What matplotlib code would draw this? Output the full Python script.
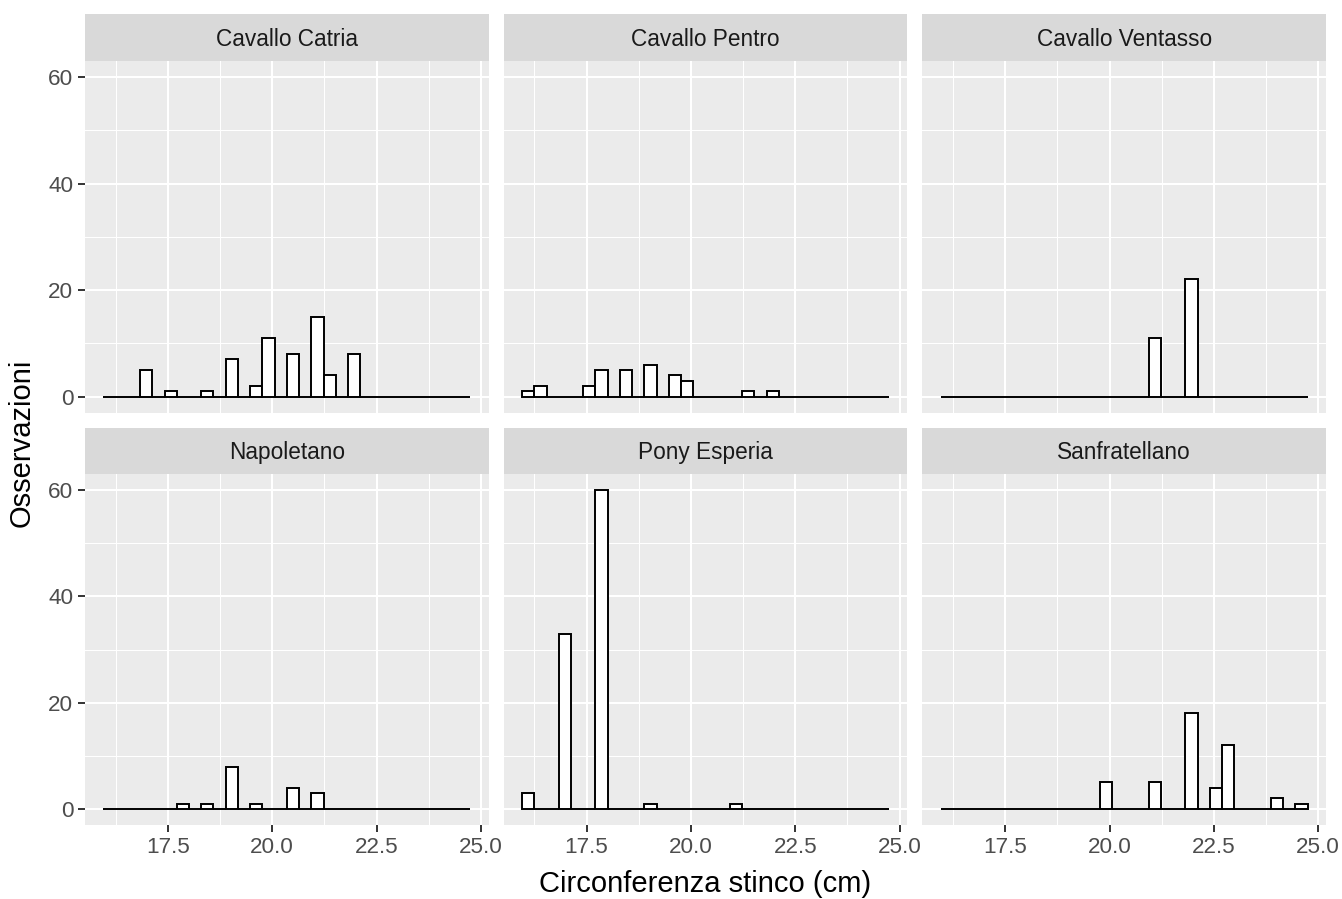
import numpy as np
import matplotlib
matplotlib.use("Agg")
import matplotlib.pyplot as plt

plt.rcParams['font.family'] = ['Liberation Sans', 'DejaVu Sans']

# ---- data ----
facets = ["Cavallo Catria", "Cavallo Pentro", "Cavallo Ventasso",
          "Napoletano", "Pony Esperia", "Sanfratellano"]
x_min, x_max, n_bins = 16.1, 24.6, 30   # data range (ggplot bins=30)

counts_catria =     [0,0,0,5,0,1,0,0,1,0,7,0,2,11,0,8,0,15,4,0,8,0,0,0,0,0,0,0,0,0]
counts_pentro =     [1,2,0,0,0,2,5,0,5,0,6,0,4,3,0,0,0,0,1,0,1,0,0,0,0,0,0,0,0,0]
counts_ventasso =   [0,0,0,0,0,0,0,0,0,0,0,0,0,0,0,0,0,11,0,0,22,0,0,0,0,0,0,0,0,0]
counts_napoletano = [0,0,0,0,0,0,1,0,1,0,8,0,1,0,0,4,0,3,0,0,0,0,0,0,0,0,0,0,0,0]
counts_pony =       [3,0,0,33,0,0,60,0,0,0,1,0,0,0,0,0,0,1,0,0,0,0,0,0,0,0,0,0,0,0]
counts_sanfrat =    [0,0,0,0,0,0,0,0,0,0,0,0,0,5,0,0,0,5,0,0,18,0,4,12,0,0,0,2,0,1]
all_counts = [counts_catria, counts_pentro, counts_ventasso,
              counts_napoletano, counts_pony, counts_sanfrat]

x_ticks = [17.5, 20.0, 22.5, 25.0]
x_ticklabels = ["17.5", "20.0", "22.5", "25.0"]
y_ticks = [0, 20, 40, 60]
y_ticklabels = ["0", "20", "40", "60"]
x_label = "Circonferenza stinco (cm)"
y_label = "Osservazioni"

# ---- layout ----
W, H = 1342, 899
fig = plt.figure(figsize=(W / 100, H / 100), dpi=100)
fig.patch.set_facecolor("white")

col_left = [85, 503.7, 922.3]
pan_w = 403.7
rows = [(14, 61, 412.7), (427.7, 474, 825)]  # strip top, panel top, panel bottom

binw = (x_max - x_min) / (n_bins - 1)
centers = np.linspace(x_min, x_max, n_bins)
xlo = x_min - binw / 2
xhi = x_max + binw / 2
xpad = (xhi - xlo) * 0.05
ymax = max(max(c) for c in all_counts)

def fr(x0, ytop, w, h):
    return [x0 / W, 1 - (ytop + h) / H, w / W, h / H]

for i, name in enumerate(facets):
    r, c = divmod(i, 3)
    st, pt, pb = rows[r]
    x0 = col_left[c]
    # strip
    sax = fig.add_axes(fr(x0, st, pan_w, pt - st))
    sax.set_facecolor("#D9D9D9")
    sax.set_xticks([]); sax.set_yticks([])
    for s in sax.spines.values():
        s.set_visible(False)
    sax.text(0.5, 0.46, name, ha="center", va="center", fontsize=16.3,
             color="#1A1A1A", transform=sax.transAxes)
    # panel
    ax = fig.add_axes(fr(x0, pt, pan_w, pb - pt))
    ax.set_facecolor("#EBEBEB")
    for s in ax.spines.values():
        s.set_visible(False)
    ax.set_xlim(xlo - xpad, xhi + xpad)
    ax.set_ylim(-0.05 * ymax, ymax * 1.05)
    ax.set_xticks(x_ticks)
    ax.set_yticks(y_ticks)
    ax.set_xticks([16.25, 18.75, 21.25, 23.75], minor=True)
    ax.set_yticks([10, 30, 50], minor=True)
    ax.grid(True, which="major", color="white", linewidth=1.5)
    ax.grid(True, which="minor", color="white", linewidth=0.75)
    ax.set_axisbelow(True)
    ax.tick_params(which="minor", length=0)
    ax.tick_params(which="major", length=5.3, width=1.4, color="#333333",
                   labelsize=16.2, labelcolor="#4D4D4D", pad=3)
    if r == 1:
        ax.set_xticklabels(x_ticklabels)
    else:
        ax.tick_params(axis="x", which="major", length=0, labelbottom=False)
    if c == 0:
        ax.set_yticklabels(y_ticklabels)
    else:
        ax.tick_params(axis="y", which="major", length=0, labelleft=False)
    ax.bar(centers, all_counts[i], width=binw, color="white",
           edgecolor="black", linewidth=1.4, zorder=3)

fig.text((85 + 1326) / 2 / W, 1 - 892 / H, x_label, ha="center",
         va="baseline", fontsize=21, color="black")
fig.text(21.5 / W, 1 - 443 / H, y_label, ha="center", va="center",
         rotation=90, fontsize=21, color="black")

fig.savefig("out.png", dpi=100)
